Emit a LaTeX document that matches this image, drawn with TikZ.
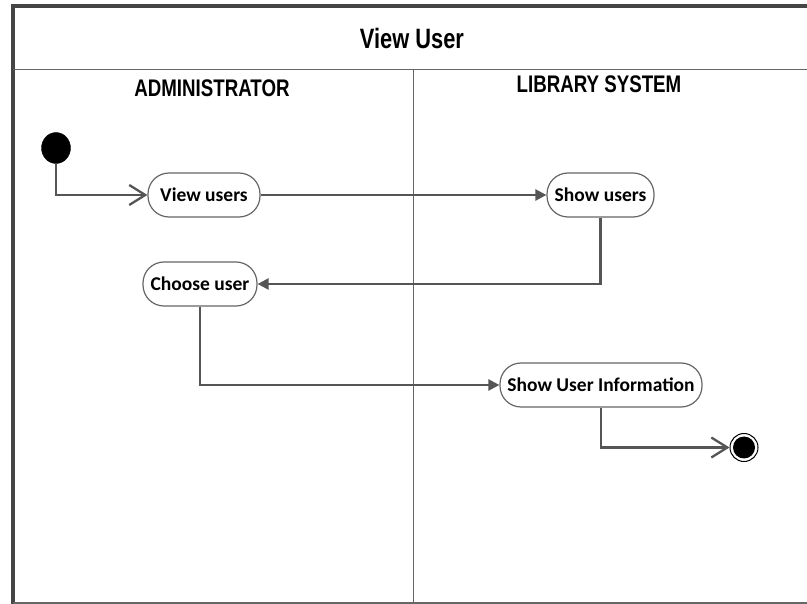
\documentclass[tikz,border=0pt]{standalone}
\usepackage{fontspec}
\usetikzlibrary{arrows.meta,shapes.geometric}
\newfontfamily\hdrfont[FakeStretch=0.78]{Liberation Sans}
\newfontfamily\actfont{Carlito}
\definecolor{framec}{HTML}{454545}
\definecolor{linec}{HTML}{555555}
\definecolor{borderc}{HTML}{666666}
\tikzset{
  act/.style={draw=borderc, line width=1.2pt, fill=white, rounded corners=21pt,
    minimum height=44pt, inner xsep=0pt, font=\actfont\bfseries\fontsize{19.5}{22}\selectfont},
  flow/.style={draw=linec, line width=2.3pt, -{Triangle[length=11pt,width=11pt]}},
  openflow/.style={draw=linec, line width=2.3pt, -{Straight Barb[length=16pt,width=20pt,line width=2.3pt]}},
  hdr/.style={font=\hdrfont\bfseries\fontsize{24}{26}\selectfont, inner sep=0pt},
  ttl/.style={font=\hdrfont\bfseries\fontsize{28}{30}\selectfont, inner sep=0pt}
}
\begin{document}
\begin{tikzpicture}[x=1pt,y=-1pt]
\useasboundingbox (0,0) rectangle (807,604);
% frame
\draw[framec, line width=4pt] (820,6) -- (13,6) -- (13,606);
\draw[borderc, line width=1.5pt] (13,603) -- (820,603);
\draw[borderc, line width=1.5pt] (13,69.5) -- (820,69.5);
\draw[borderc, line width=1.2pt] (413.5,69.5) -- (413.5,604);
% texts
\node[ttl] (title) at (412,38) {View User};
\node[hdr] (lane1) at (212,88) {ADMINISTRATOR};
\node[hdr] (lane2) at (599,84) {LIBRARY SYSTEM};
% nodes
\node[ellipse, fill=black, draw=black, minimum width=29pt, minimum height=31pt, inner sep=0pt] (init) at (56,148) {};
\node[act, minimum width=112pt] (vu) at (204,195) {View users};
\node[act, minimum width=107pt] (su) at (600.5,195) {Show users};
\node[act, minimum width=114pt] (cu) at (200,284) {Choose user};
\node[act, minimum width=202pt] (sui) at (601,385) {Show User Information};
\node[circle, draw=black, line width=1pt, fill=white, minimum size=28pt, inner sep=0pt] (fin) at (744,447.5) {};
\node[circle, fill=black, minimum size=22pt, inner sep=0pt] (finin) at (fin.center) {};
% connectors
\draw[openflow] (init.south) |- (vu.west);
\draw[flow] (vu.east) -- (su.west);
\draw[flow] (su.south) |- (cu.east);
\draw[flow] (cu.south) |- (sui.west);
\draw[openflow] (sui.south) |- (fin.west);
\end{tikzpicture}
\end{document}
